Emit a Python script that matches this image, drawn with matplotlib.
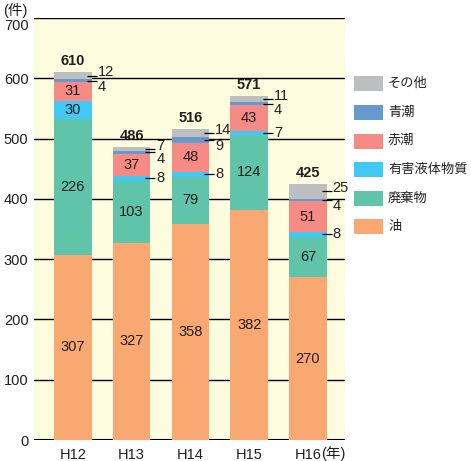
import matplotlib
matplotlib.use("Agg")
import matplotlib.pyplot as plt
from matplotlib.patches import Rectangle
from matplotlib.transforms import ScaledTranslation

plt.rcParams['font.family'] = ['Liberation Sans', 'Noto Sans CJK JP', 'DejaVu Sans']

years = ["H12", "H13", "H14", "H15", "H16"]
oil = [307, 327, 358, 382, 270]          # 油
waste = [226, 103, 79, 124, 67]          # 廃棄物
harmful = [30, 8, 8, 7, 8]               # 有害液体物質
red_tide = [31, 37, 48, 43, 51]          # 赤潮
blue_tide = [4, 4, 9, 4, 4]              # 青潮
other = [12, 7, 14, 11, 25]              # その他
totals = [610, 486, 516, 571, 425]

series = [
    ("油", oil, "#f8a870"),
    ("廃棄物", waste, "#5fc4aa"),
    ("有害液体物質", harmful, "#42c8f4"),
    ("赤潮", red_tide, "#f68a85"),
    ("青潮", blue_tide, "#6699cc"),
    ("その他", other, "#bcbec0"),
]

txt = "#231f20"
fig = plt.figure(figsize=(4.71, 4.61), dpi=100)
ax = fig.add_axes([34/471, 21/461, 311/471, 422/461])
ax.set_facecolor("#fefcdf")
for s in ax.spines.values():
    s.set_visible(False)

x = list(range(len(years)))
w = 0.64
ax.set_xlim(-0.66, 4.63)
ax.set_ylim(0, 700)
ax.set_yticks(range(0, 701, 100))
ax.yaxis.grid(True, color="black", lw=1.0)
ax.set_axisbelow(True)
ax.axhline(0, color="black", lw=1.5)
ax.tick_params(axis="both", length=0, labelsize=10.5, colors=txt)
ax.tick_params(axis="y", pad=4)
ax.tick_params(axis="x", pad=6)
ax.set_xticks(x)
ax.set_xticklabels(years)
# shift the top tick label down a little, as in the reference
top_lbl = ax.get_yticklabels()[-1]
top_lbl.set_transform(top_lbl.get_transform() + ScaledTranslation(0, -6/100, fig.dpi_scale_trans))

bottoms = [0] * len(years)
for name, vals, col in series:
    ax.bar(x, vals, w, bottom=bottoms, color=col, linewidth=0, zorder=2)
    for i, v in enumerate(vals):
        mid = bottoms[i] + v / 2
        outside = name in ("その他", "青潮") or (name == "有害液体物質" and v < 20)
        if outside:
            right = i + w / 2
            ax.hlines(mid, right - 0.085, right + 0.085, color="black", lw=0.9, zorder=3)
            dy = 0
            if name == "その他":
                dy = 2.5
            elif name == "青潮":
                dy = -4.5
            ax.annotate(str(v), xy=(right + 0.1, mid), xytext=(0, dy),
                        textcoords="offset points", ha="left", va="center",
                        fontsize=10.5, color=txt, zorder=4)
        else:
            ax.text(i, mid, str(v), ha="center", va="center", fontsize=10.5, color=txt, zorder=4)
    bottoms = [b + v for b, v in zip(bottoms, vals)]

for i, t in enumerate(totals):
    ax.annotate(str(t), xy=(i, t), xytext=(0, 3), textcoords="offset points",
                ha="center", va="bottom", fontsize=10.5, fontweight="bold", color=txt)

ax.annotate("(年)", xy=(4, 0), xytext=(9.5, -4.3), textcoords="offset points",
            ha="left", va="top", fontsize=10.5, color=txt, annotation_clip=False)
fig.text(3/471, 1 - 10/461, "(件)", ha="left", va="center", fontsize=10.5, color=txt)

# legend
for k, (name, vals, col) in enumerate(reversed(series)):
    yc = 84 + k * 28.6
    fig.add_artist(Rectangle((354/471, 1 - (yc + 7.5)/461), 29/471, 15/461,
                             transform=fig.transFigure, color=col, lw=0))
    fig.text(388/471, 1 - yc/461, name, ha="left", va="center", fontsize=9.5, color=txt)

fig.savefig("out.png", dpi=100)
